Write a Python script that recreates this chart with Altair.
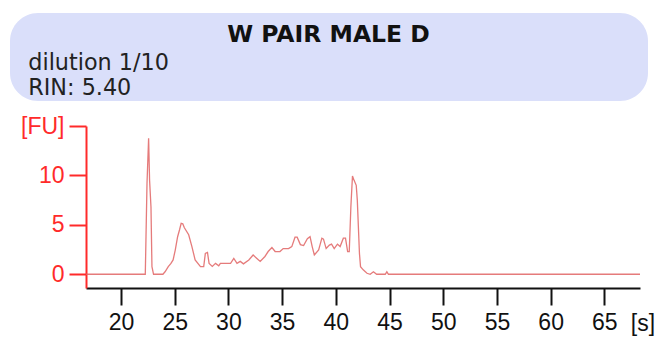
import altair as alt
import pandas as pd

# ---- data ----
time_s = [16.74, 22.26, 22.42, 22.57, 22.66, 22.79, 22.88, 23.03, 23.9, 24.1, 24.4, 24.65,
          24.85, 25.05, 25.27, 25.45, 25.6, 25.75, 25.9, 26.3, 26.6, 26.9, 27.4, 27.7, 27.85,
          28.05, 28.2, 28.5, 28.8, 29.1, 29.25, 30.2, 30.5, 30.8, 31.1, 31.4, 31.9, 32.3,
          32.65, 32.96, 33.4, 33.7, 34.05, 34.35, 34.8, 35.1, 35.6, 35.9, 36.2, 36.4, 36.7,
          37.0, 37.35, 37.6, 37.8, 38.0, 38.4, 38.7, 38.85, 39.1, 39.4, 39.6, 39.85, 40.15,
          40.4, 40.7, 40.9, 41.1, 41.25, 41.4, 41.55, 41.7, 41.9, 42.0, 42.2, 42.3, 42.55,
          42.9, 43.2, 43.5, 43.8, 44.6, 44.75, 44.9, 68.32]
fu_value = [0, 0, 9.2, 13.75, 9.5, 6.8, 0.77, 0, 0, 0.25, 0.77, 1.1,
            1.45, 2.45, 3.8, 4.5, 5.15, 5.1, 4.7, 4.0, 2.8, 1.45, 0.77, 0.77, 2.1,
            2.2, 1.1, 0.8, 1.1, 0.85, 1.1, 1.1, 1.6, 1.1, 1.3, 1.05, 1.45, 1.95,
            1.6, 1.3, 1.8, 2.3, 2.7, 2.3, 2.3, 2.6, 2.6, 2.8, 3.75, 3.75, 3.0,
            2.9, 3.6, 3.8, 2.8, 1.95, 2.45, 3.65, 3.55, 2.6, 2.95, 3.05, 2.6, 3.05,
            2.8, 3.65, 3.65, 2.3, 2.3, 6.8, 9.95, 9.5, 9.0, 7.5, 2.1, 0.77, 0.45,
            0.1, 0, 0.25, 0, 0, 0.25, 0, 0]

x_ticks = [20, 25, 30, 35, 40, 45, 50, 55, 60, 65]
y_ticks = [0, 5, 10, 15]
x_domain = [16.74, 68.32]
y_domain = [-1.39, 15]

title_text = "W PAIR MALE D"
info_lines = ["dilution 1/10", "RIN: 5.40"]
x_unit = "[s]"
y_unit = "[FU]"

df = pd.DataFrame({"t": time_s, "fu": fu_value})

W, H = 554, 162
RED = "#ff2a2a"
FONT = "Liberation Sans"

trace = alt.Chart(df).mark_line(color="#e06464", strokeWidth=1.3, opacity=0.85,
                                interpolate="linear").encode(
    x=alt.X("t:Q", scale=alt.Scale(domain=x_domain, nice=False, zero=False),
            axis=alt.Axis(values=x_ticks, title=None, grid=False, domainColor="#111",
                          domainWidth=2, tickColor="#111", tickWidth=2, tickSize=17,
                          labelFont=FONT, labelFontSize=23, labelColor="#111",
                          labelPadding=6, labelFlush=False)),
    y=alt.Y("fu:Q", scale=alt.Scale(domain=y_domain, nice=False, zero=False),
            axis=alt.Axis(values=y_ticks, title=None, grid=False, domainColor=RED,
                          domainWidth=2, tickColor=RED, tickWidth=2, tickSize=17,
                          labelFont=FONT, labelFontSize=23, labelColor=RED,
                          labelPadding=5, labelFlush=False,
                          labelExpr=f"datum.value == 15 ? '{y_unit}' : datum.label")),
)

one = alt.Data(values=[{}])

box = alt.Chart(one).mark_rect(color="#dadffa", cornerRadius=28).encode(
    x=alt.value(-76), x2=alt.value(562), y=alt.value(-113), y2=alt.value(-25))

title = alt.Chart(pd.DataFrame({"s": [title_text]})).mark_text(
    font="DejaVu Sans", fontWeight="bold", fontSize=23.5, color="#111",
    align="center", baseline="alphabetic").encode(
    text="s:N", x=alt.value(242.5), y=alt.value(-84.3))

line1 = alt.Chart(pd.DataFrame({"s": [info_lines[0]]})).mark_text(
    font="DejaVu Sans", fontSize=22.3, color="#222", align="left", baseline="alphabetic").encode(
    text="s:N", x=alt.value(-57.7), y=alt.value(-56.5))

line2 = alt.Chart(pd.DataFrame({"s": [info_lines[1]]})).mark_text(
    font="DejaVu Sans", fontSize=22.3, color="#222", align="left", baseline="alphabetic").encode(
    text="s:N", x=alt.value(-57.7), y=alt.value(-31))

sunit = alt.Chart(pd.DataFrame({"s": [x_unit]})).mark_text(
    font=FONT, fontSize=23, color="#111", align="center", baseline="alphabetic").encode(
    text="s:N", x=alt.value(557), y=alt.value(205))

chart = alt.layer(box, title, line1, line2, trace, sunit).properties(
    width=W, height=H,
    autosize=alt.AutoSizeParams(type="none"),
    padding={"left": 86, "top": 126, "right": 18, "bottom": 50},
    background="white",
).configure_view(stroke=None)

chart.save("out.html", embed_options={"renderer": "svg", "actions": False})
